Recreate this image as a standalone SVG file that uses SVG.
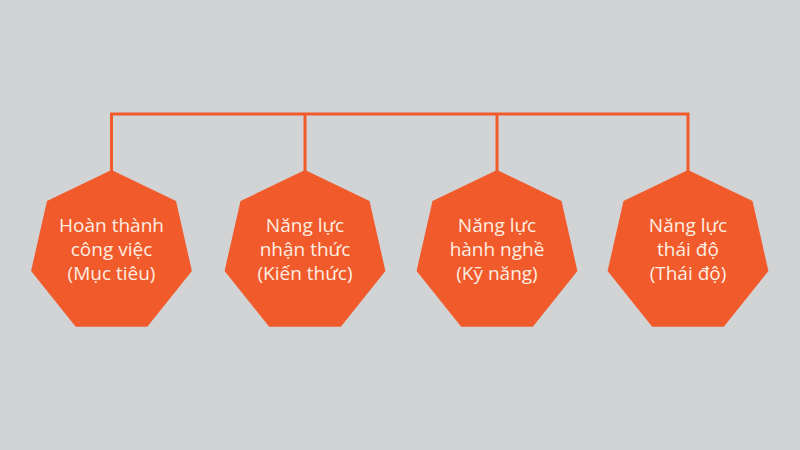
<svg xmlns="http://www.w3.org/2000/svg" width="800" height="450" viewBox="0 0 800 450">
<style>
.bg{fill:#D1D3D4}
.hept{fill:#F15A2B}
.conn{fill:none;stroke:#F15A2B;stroke-width:3}
.lbl{font-family:"Open Sans","Noto Sans","DejaVu Sans",sans-serif;font-size:19px;fill:#FDEEE2;text-anchor:middle}
</style>
<defs>
<polygon id="hep" points="0,-82.5 64.5,-51.4 80.4,18.4 35.8,74.3 -35.8,74.3 -80.4,18.4 -64.5,-51.4"/>
</defs>
<rect class="bg" x="0" y="0" width="800" height="450"/>
<g id="connectors">
<polyline class="conn" points="111.5,171 111.5,114 688,114 688,171"/>
<line class="conn" x1="305" y1="114" x2="305" y2="171"/>
<line class="conn" x1="497" y1="114" x2="497" y2="171"/>
</g>
<g id="node1">
<use href="#hep" class="hept" x="111.5" y="252.5"/>
<text class="lbl" x="111.5" y="232">Hoàn thành</text>
<text class="lbl" x="111.5" y="256">công việc</text>
<text class="lbl" x="111.5" y="280">(Mục tiêu)</text>
</g>
<g id="node2">
<use href="#hep" class="hept" x="305" y="252.5"/>
<text class="lbl" x="305" y="232">Năng lực</text>
<text class="lbl" x="305" y="256">nhận thức</text>
<text class="lbl" x="305" y="280">(Kiến thức)</text>
</g>
<g id="node3">
<use href="#hep" class="hept" x="497" y="252.5"/>
<text class="lbl" x="497" y="232">Năng lực</text>
<text class="lbl" x="497" y="256">hành nghề</text>
<text class="lbl" x="497" y="280">(Kỹ năng)</text>
</g>
<g id="node4">
<use href="#hep" class="hept" x="688" y="252.5"/>
<text class="lbl" x="688" y="232">Năng lực</text>
<text class="lbl" x="688" y="256">thái độ</text>
<text class="lbl" x="688" y="280">(Thái độ)</text>
</g>
</svg>
